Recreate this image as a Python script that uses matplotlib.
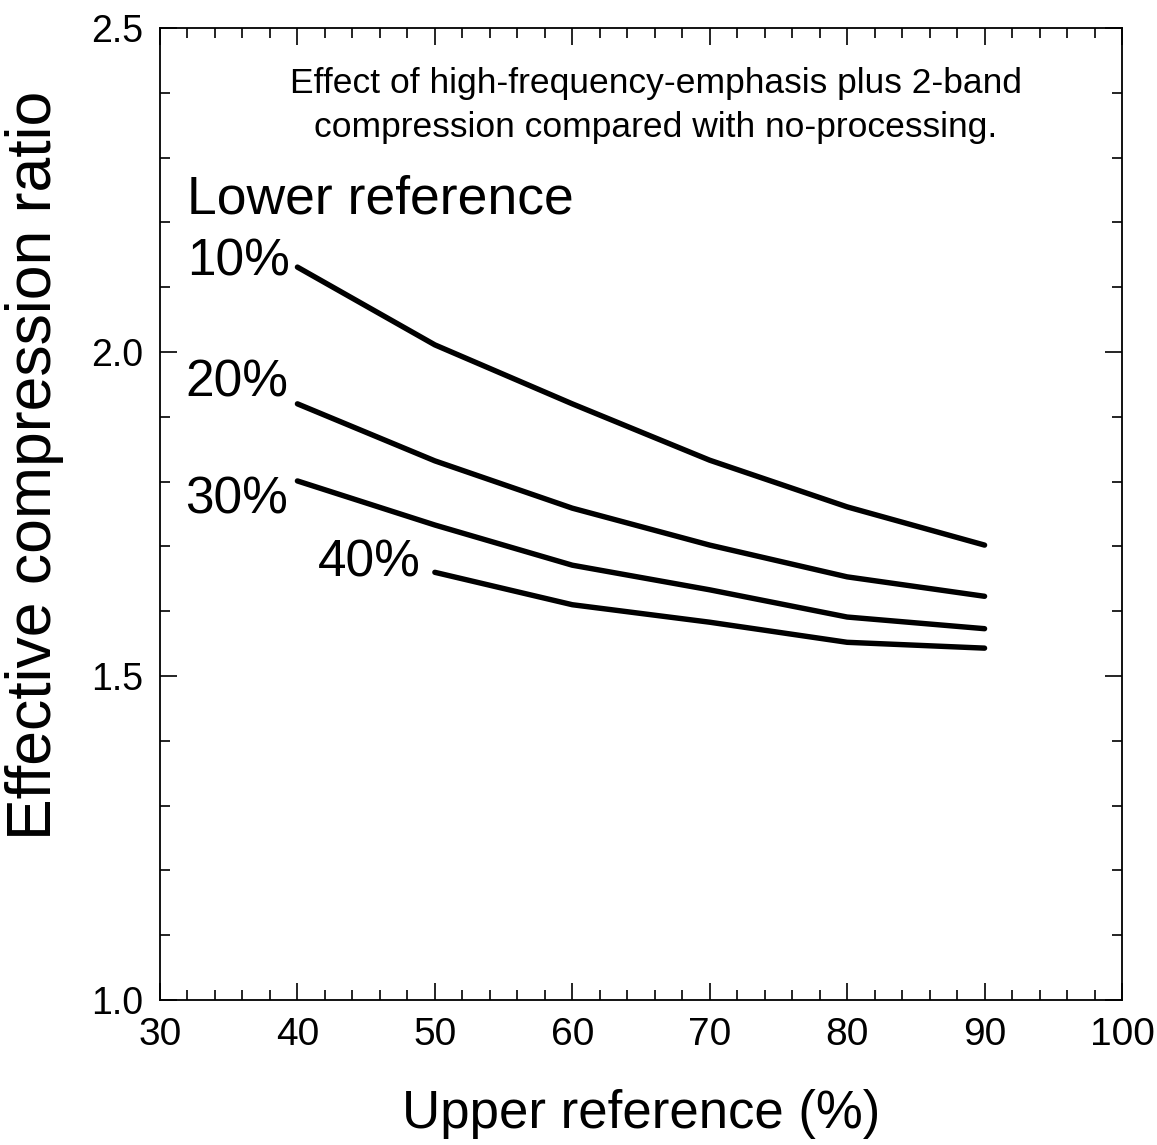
import matplotlib
matplotlib.use("Agg")
import matplotlib.pyplot as plt
from matplotlib.ticker import MultipleLocator

# ---- data ----
upper_ref = [40, 50, 60, 70, 80, 90]
upper_ref_40 = [50, 60, 70, 80, 90]
ratio_10 = [2.131, 2.011, 1.920, 1.833, 1.761, 1.702]
ratio_20 = [1.920, 1.832, 1.759, 1.702, 1.653, 1.623]
ratio_30 = [1.801, 1.733, 1.671, 1.633, 1.591, 1.573]
ratio_40 = [1.660, 1.610, 1.583, 1.552, 1.543]
series_labels = ["10%", "20%", "30%", "40%"]
x_ticks = [30, 40, 50, 60, 70, 80, 90, 100]
y_ticks = [1.0, 1.5, 2.0, 2.5]

font = "Liberation Sans"

fig = plt.figure(figsize=(11.57, 11.45), dpi=100)
ax = fig.add_axes([160/1157, 145/1145, 962/1157, 972/1145])

lw = 3.9
for yv, xv in [(ratio_10, upper_ref), (ratio_20, upper_ref), (ratio_30, upper_ref), (ratio_40, upper_ref_40)]:
    ax.plot(xv, yv, color="black", lw=lw, solid_capstyle="round", solid_joinstyle="round")

ax.set_xlim(30, 100)
ax.set_ylim(1.0, 2.5)
ax.set_xticks(x_ticks)
ax.set_yticks(y_ticks)
ax.set_xticklabels([str(v) for v in x_ticks], fontfamily=font, fontsize=28)
ax.set_yticklabels([f"{v:.1f}" for v in y_ticks], fontfamily=font, fontsize=27)
ax.xaxis.set_minor_locator(MultipleLocator(2))
ax.yaxis.set_minor_locator(MultipleLocator(0.1))
ax.tick_params(which="both", direction="in", top=True, right=True, width=1.2, color="black")
ax.tick_params(which="major", length=12)
ax.tick_params(which="minor", length=7)
ax.tick_params(axis="x", which="major", pad=12)
ax.tick_params(axis="y", which="major", pad=12)
for s in ax.spines.values():
    s.set_linewidth(1.3)

ax.set_xlabel("Upper reference (%)", fontfamily=font, fontsize=38, labelpad=26)
ax.set_ylabel("Effective compression ratio", fontfamily=font, fontsize=45)
ax.yaxis.set_label_coords(-0.100, 0.550)

ax.text(66.1, 2.415, "Effect of high-frequency-emphasis plus 2-band",
        ha="center", va="center", fontfamily=font, fontsize=25.5)
ax.text(66.1, 2.347, "compression compared with no-processing.",
        ha="center", va="center", fontfamily=font, fontsize=25.5)
ax.text(31.96, 2.235, "Lower reference", ha="left", va="center", fontfamily=font, fontsize=38.5)
label_pos = [(31.96, 2.139), (31.82, 1.952), (31.82, 1.772), (41.5, 1.674)]
for (lx, ly), lab in zip(label_pos, series_labels):
    ax.text(lx, ly, lab, ha="left", va="center", fontfamily=font, fontsize=37)

fig.savefig("out.png", dpi=100)
